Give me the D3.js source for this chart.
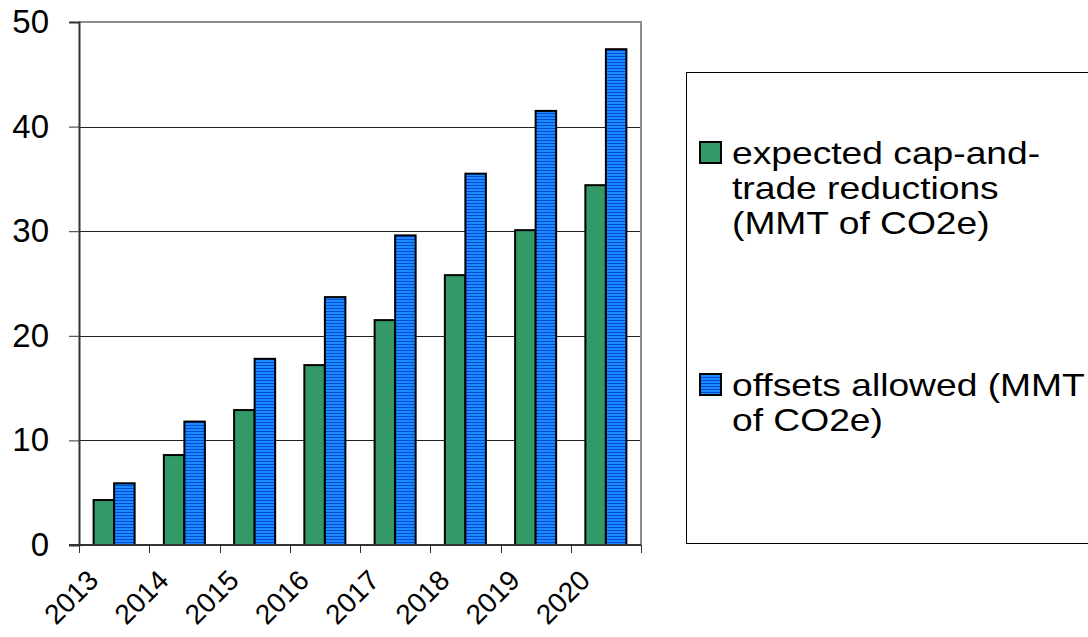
<!DOCTYPE html>
<html>
<head>
<meta charset="utf-8">
<script src="https://cdn.jsdelivr.net/npm/d3@7"></script>
<style>
  body { margin: 0; background: #fff; }
  svg { display: block; }
  text { font-family: "Liberation Sans", Arial, Helvetica, sans-serif; fill: #000; }
</style>
</head>
<body>
<svg id="chart" width="1088" height="637"></svg>
<script>
// Years on the category axis
const years = ["2013", "2014", "2015", "2016", "2017", "2018", "2019", "2020"];
// Expected cap-and-trade reductions, MMT of CO2e
const reductions = [4.3, 8.6, 12.9, 17.2, 21.5, 25.8, 30.1, 34.4];
// Offsets allowed, MMT of CO2e
const offsets = [5.9, 11.8, 17.8, 23.7, 29.6, 35.5, 41.5, 47.4];
// Value axis ticks
const yTicks = [0, 10, 20, 30, 40, 50];
// Legend entries, wrapped as displayed
const legendLines = [
  ["expected cap-and-", "trade reductions", "(MMT of CO2e)"],
  ["offsets allowed (MMT", "of CO2e)"]
];

const svg = d3.select("#chart");
const plot = { left: 79, right: 641, top: 22, bottom: 545 };
const AXIS_FONT = 33;
const CAT_FONT = 28;
const LEGEND_FONT = 31;

// Striped fill for the offsets series
const defs = svg.append("defs");
const pat = defs.append("pattern")
  .attr("id", "stripes")
  .attr("patternUnits", "userSpaceOnUse")
  .attr("width", 8).attr("height", 3);
pat.append("rect").attr("width", 8).attr("height", 3).attr("fill", "#1a8cff");
pat.append("rect").attr("y", 2).attr("width", 8).attr("height", 1).attr("fill", "#0048d8");

const pIn = 0.416;
const x = d3.scaleBand().domain(years)
  .range([plot.left, plot.right])
  .paddingInner(pIn).paddingOuter(pIn / 2);
const xSub = d3.scaleBand().domain(["r", "o"]).range([0, x.bandwidth()]);
const y = d3.scaleLinear().domain([0, 50]).range([plot.bottom, plot.top]);

// Horizontal gridlines
svg.append("g").selectAll("line")
  .data(yTicks.filter(t => t > 0 && t < 50))
  .join("line")
  .attr("x1", plot.left).attr("x2", plot.right)
  .attr("y1", d => Math.round(y(d)) + 0.5).attr("y2", d => Math.round(y(d)) + 0.5)
  .attr("stroke", "#222").attr("stroke-width", 1);

// Plot frame (top and right)
svg.append("path")
  .attr("d", `M${plot.left},${y(50)}H${plot.right}V${plot.bottom}`)
  .attr("fill", "none").attr("stroke", "#8c8c8c").attr("stroke-width", 2);

// Bars
const groups = svg.append("g").selectAll("g")
  .data(years.map((yr, i) => ({ yr, r: reductions[i], o: offsets[i] })))
  .join("g")
  .attr("transform", d => `translate(${x(d.yr)},0)`);

groups.append("rect")
  .attr("x", xSub("r")).attr("width", xSub.bandwidth())
  .attr("y", d => y(d.r)).attr("height", d => y(0) - y(d.r))
  .attr("fill", "#339966").attr("stroke", "#000").attr("stroke-width", 2);

groups.append("rect")
  .attr("x", xSub("o")).attr("width", xSub.bandwidth())
  .attr("y", d => y(d.o)).attr("height", d => y(0) - y(d.o))
  .attr("fill", "url(#stripes)").attr("stroke", "#000").attr("stroke-width", 2);

// Value axis
const yAxis = svg.append("g")
  .attr("transform", `translate(${plot.left},0)`)
  .call(d3.axisLeft(y).tickValues(yTicks).tickSize(10).tickPadding(20).tickFormat(d3.format("d")));
yAxis.select(".domain").attr("stroke", "#333").attr("stroke-width", 2);
yAxis.selectAll(".tick line").attr("stroke", "#333");
yAxis.selectAll("text")
  .style("font-size", AXIS_FONT + "px")
  .attr("font-family", null);

// Category axis: ticks sit on the boundaries between years
const bounds = years.map(yr => x(yr) - x.step() * pIn / 2).concat([plot.right]);
svg.append("line")
  .attr("x1", plot.left - 10).attr("x2", plot.right)
  .attr("y1", plot.bottom).attr("y2", plot.bottom)
  .attr("stroke", "#333").attr("stroke-width", 2);
svg.append("g").selectAll("line")
  .data(bounds)
  .join("line")
  .attr("x1", d => Math.round(d) + 0.5).attr("x2", d => Math.round(d) + 0.5)
  .attr("y1", plot.bottom).attr("y2", plot.bottom + 8)
  .attr("stroke", "#333").attr("stroke-width", 1);

svg.append("g").selectAll("text")
  .data(years)
  .join("text")
  .attr("transform", d => `translate(${x(d) + x.bandwidth() / 2 - 14},${plot.bottom + 37}) rotate(-45)`)
  .attr("text-anchor", "end")
  .style("font-size", CAT_FONT + "px")
  .text(d => d);

// Legend
const legend = svg.append("g");
legend.append("rect")
  .attr("x", 686.5).attr("y", 72.5)
  .attr("width", 500).attr("height", 471)
  .attr("fill", "#fff").attr("stroke", "#000").attr("stroke-width", 1);

const legendFills = ["#339966", "url(#stripes)"];
const legendBase = [164, 396];
const lineH = 35;
const textX = 732;
legendLines.forEach((lines, i) => {
  legend.append("rect")
    .attr("x", 700).attr("y", legendBase[i] - 22)
    .attr("width", 21).attr("height", 21)
    .attr("fill", legendFills[i]).attr("stroke", "#000").attr("stroke-width", 2);
  const t = legend.append("text")
    .attr("transform", `translate(${textX},${legendBase[i]}) scale(1.2,1)`)
    .style("font-size", LEGEND_FONT + "px");
  lines.forEach((ln, j) => {
    t.append("tspan").attr("x", 0).attr("y", j * lineH).text(ln);
  });
});
</script>
</body>
</html>
